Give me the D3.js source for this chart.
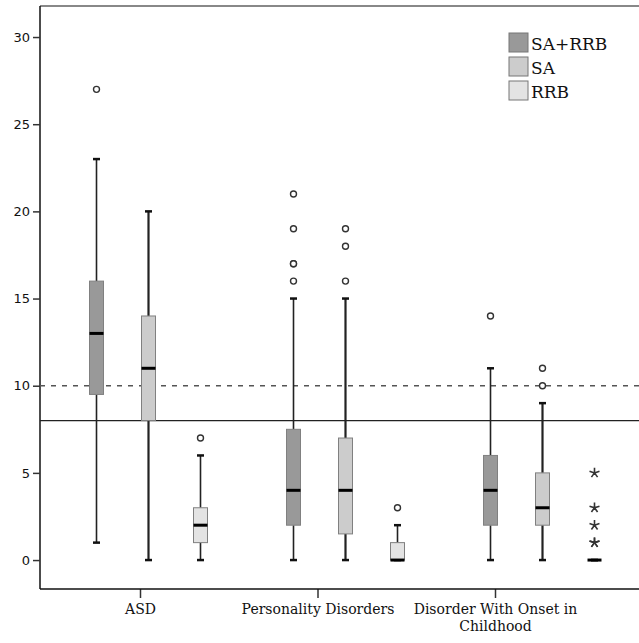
<!DOCTYPE html>
<html>
<head>
<meta charset="utf-8">
<script src="https://cdn.jsdelivr.net/npm/d3@7"></script>
<style>
  body { margin: 0; background: #fff; }
  svg { display: block; }
</style>
</head>
<body>
<svg id="chart" width="639" height="643"></svg>
<script>
// categories and series
const categories = ['ASD', 'Personality Disorders', 'Disorder With Onset in Childhood'];
const series = ['SA+RRB', 'SA', 'RRB'];

// box stats per category: [whiskerLow, q1, median, q3, whiskerHigh]
const saRrbStats = [[1, 9.5, 13, 16, 23], [0, 2, 4, 7.5, 15], [0, 2, 4, 6, 11]];
const saStats = [[0, 8, 11, 14, 20], [0, 1.5, 4, 7, 15], [0, 2, 3, 5, 9]];
const rrbStats = [[0, 1, 2, 3, 6], [0, 0, 0, 1, 2], [0, 0, 0, 0, 0]];

// outliers (circles) and extremes (stars)
const saRrbOutliers = [[27], [21, 19, 17, 17, 16], [14]];
const saOutliers = [[], [19, 18, 16], [11, 10]];
const rrbOutliers = [[7], [3], []];
const rrbExtremes = [[], [], [5, 3, 2, 1, 1]];

const yTicks = [0, 5, 10, 15, 20, 25, 30];
const dashedRef = [10];
const solidRef = [8];

const fills = { 'SA+RRB': '#999999', 'SA': '#cccccc', 'RRB': '#e3e3e3' };
const statsBySeries = { 'SA+RRB': saRrbStats, 'SA': saStats, 'RRB': rrbStats };
const outliersBySeries = { 'SA+RRB': saRrbOutliers, 'SA': saOutliers, 'RRB': rrbOutliers };
const extremesBySeries = { 'SA+RRB': [[], [], []], 'SA': [[], [], []], 'RRB': rrbExtremes };

const svg = d3.select('#chart');
const frame = { left: 40, right: 645, top: 6, bottom: 589 };

const y = d3.scaleLinear().domain([-1.66, 31.78]).range([frame.bottom, frame.top]);
const x = d3.scaleBand().domain(categories).range([50, 641]);
const xOff = d3.scalePoint().domain(series).range([-52, 52]);
const xLabel = d3.scalePoint().domain(categories).range([140, 495]);
const boxW = 14;

// five-armed asterisk like SPSS extreme markers
const star5 = {
  draw(ctx, size) {
    const r = Math.sqrt(size) / 2;
    for (let k = 0; k < 5; k++) {
      const a = -Math.PI / 2 + k * 2 * Math.PI / 5;
      ctx.moveTo(0, 0);
      ctx.lineTo(r * Math.cos(a), r * Math.sin(a));
    }
  }
};
const starPath = d3.symbol().type(star5).size(110);

// frame
svg.append('line').attr('x1', frame.left).attr('x2', frame.right)
  .attr('y1', frame.top).attr('y2', frame.top)
  .attr('stroke', '#888').attr('stroke-width', 2);
svg.append('line').attr('x1', frame.left).attr('x2', frame.left)
  .attr('y1', frame.top).attr('y2', frame.bottom)
  .attr('stroke', '#111').attr('stroke-width', 1.5);

// y axis
const yAxis = d3.axisLeft(y).tickValues(yTicks).tickSize(7).tickPadding(3);
const yg = svg.append('g').attr('transform', `translate(${frame.left},0)`).call(yAxis);
yg.select('.domain').remove();
yg.selectAll('.tick line').attr('stroke', '#333').attr('stroke-width', 1.5);
yg.selectAll('.tick text').attr('font-family', 'DejaVu Sans').attr('font-size', 13).attr('fill', '#111');

// x axis
const xAxis = d3.axisBottom(xLabel).tickSize(9).tickPadding(6).tickFormat('');
const xg = svg.append('g').attr('transform', `translate(0,${frame.bottom})`).call(xAxis);
xg.select('.domain').remove();
xg.selectAll('.tick line').attr('stroke', '#333').attr('stroke-width', 1.5);
svg.append('line').attr('x1', frame.left).attr('x2', frame.right)
  .attr('y1', frame.bottom).attr('y2', frame.bottom)
  .attr('stroke', '#111').attr('stroke-width', 1.5);
xg.selectAll('.tick').each(function(d) {
  const words = d === categories[2] ? ['Disorder With Onset in', 'Childhood'] : [d];
  const t = d3.select(this).append('text')
    .attr('text-anchor', 'middle').attr('font-family', 'DejaVu Serif')
    .attr('font-size', 14).attr('fill', '#111');
  words.forEach((w, i) => t.append('tspan').attr('x', 0).attr('y', 25 + i * 17).text(w));
});

// reference lines
svg.selectAll('.dashref').data(dashedRef).join('line')
  .attr('x1', frame.left).attr('x2', frame.right)
  .attr('y1', d => y(d)).attr('y2', d => y(d))
  .attr('stroke', '#555').attr('stroke-width', 1.5).attr('stroke-dasharray', '5,6');
svg.selectAll('.solidref').data(solidRef).join('line')
  .attr('x1', frame.left).attr('x2', frame.right)
  .attr('y1', d => y(d)).attr('y2', d => y(d))
  .attr('stroke', '#222').attr('stroke-width', 1.2);

// boxes
series.forEach(s => {
  categories.forEach((c, ci) => {
    const [lo, q1, med, q3, hi] = statsBySeries[s][ci];
    const cx = x(c) + x.bandwidth() / 2 + xOff(s);
    const g = svg.append('g');
    const ws = s === 'SA' ? 2.2 : 1.6;
    g.append('line').attr('x1', cx).attr('x2', cx).attr('y1', y(hi)).attr('y2', y(q3))
      .attr('stroke', '#222').attr('stroke-width', ws);
    g.append('line').attr('x1', cx).attr('x2', cx).attr('y1', y(q1)).attr('y2', y(lo))
      .attr('stroke', '#222').attr('stroke-width', ws);
    [lo, hi].forEach(v => {
      g.append('line').attr('x1', cx - 3.5).attr('x2', cx + 3.5).attr('y1', y(v)).attr('y2', y(v))
        .attr('stroke', '#111').attr('stroke-width', 2.5);
    });
    if (q3 > q1) {
      g.append('rect').attr('x', cx - boxW / 2).attr('width', boxW)
        .attr('y', y(q3)).attr('height', y(q1) - y(q3))
        .attr('fill', fills[s]).attr('stroke', '#808080').attr('stroke-width', 1);
    }
    g.append('line').attr('x1', cx - boxW / 2).attr('x2', cx + boxW / 2)
      .attr('y1', y(med)).attr('y2', y(med))
      .attr('stroke', '#000').attr('stroke-width', 3);
    g.selectAll('circle').data(outliersBySeries[s][ci]).join('circle')
      .attr('cx', cx).attr('cy', d => y(d)).attr('r', 3)
      .attr('fill', '#fff').attr('stroke', '#333').attr('stroke-width', 1.4);
    g.selectAll('path.star').data(extremesBySeries[s][ci]).join('path')
      .attr('class', 'star').attr('d', starPath)
      .attr('transform', d => `translate(${cx},${y(d)})`)
      .attr('fill', 'none').attr('stroke', '#333').attr('stroke-width', 1.6);
  });
});

// legend
const legend = svg.append('g').attr('transform', 'translate(509,33)');
series.forEach((s, i) => {
  legend.append('rect').attr('x', 0).attr('y', i * 24).attr('width', 19).attr('height', 19)
    .attr('fill', fills[s]).attr('stroke', '#777').attr('stroke-width', 1);
  legend.append('text').attr('x', 22).attr('y', i * 24 + 17)
    .attr('font-family', 'DejaVu Serif').attr('font-size', 17).attr('fill', '#111').text(s);
});
</script>
</body>
</html>
